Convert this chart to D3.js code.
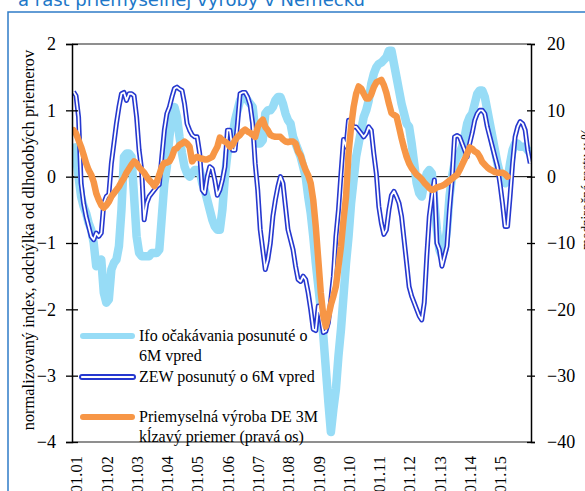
<!DOCTYPE html>
<html>
<head>
<meta charset="utf-8">
<script src="https://d3js.org/d3.v7.min.js"></script>
<style>
  body { margin: 0; background: #fff; }
  svg text { font-family: "Liberation Serif", "Times New Roman", serif; fill: #000; }
</style>
</head>
<body>
<div id="chart"></div>
<script>
// month index: 0 = 01.2001; all series start one month earlier (12.2000)
var startMonth = -1;

// Ifo expectations shifted 6M ahead (left axis)
var ifoValues = [0.5, 0.3, 0.0, -0.3, -0.45, -0.55, -0.7, -0.8, -1.0, -1.35, -1.3, -1.25, -1.75,
  -1.9, -1.85, -1.4, -1.3, -1.25, -1.05, -0.5, 0.3, 0.35, 0.35, 0.3, -0.3,
  -0.9, -1.15, -1.2, -1.2, -1.2, -1.2, -1.15, -1.15, -1.15, -1.1, -0.6, -0.1,
  0.15, 0.6, 0.9, 1.05, 0.9, 0.6, 0.35, 0.15, 0.05, 0.0, 0.05, 0.1,
  0.1, 0.1, -0.1, -0.2, -0.35, -0.5, -0.65, -0.75, -0.8, -0.8, -0.5, 0.0,
  0.35, 0.5, 0.6, 0.85, 1.0, 1.15, 1.2, 1.2, 1.15, 1.1, 1.05, 0.7,
  0.5, 0.5, 0.55, 0.95, 1.0, 1.0, 1.05, 1.15, 1.2, 1.2, 1.1, 0.95,
  0.85, 0.8, 0.6, 0.5, 0.4, 0.3, 0.15, 0.0, -0.3, -0.55, -0.9, -1.3,
  -1.65, -2.0, -2.4, -2.9, -3.4, -3.85, -3.5, -3.2, -2.7, -2.3, -1.8, -1.3,
  -0.9, -0.4, -0.05, 0.3, 0.5, 0.7, 0.9, 1.0, 1.15, 1.4, 1.55, 1.65,
  1.7, 1.72, 1.76, 1.8, 1.9, 1.9, 1.7, 1.5, 1.3, 1.1, 0.95, 0.8,
  0.75, 0.5, 0.2, -0.1, -0.25, -0.3, -0.1, 0.05, 0.1, 0.05, -0.4, -0.8,
  -1.1, -1.2, -1.1, -0.8, -0.3, 0.0, 0.2, 0.3, 0.35, 0.45, 0.6, 0.8,
  0.9, 0.95, 1.1, 1.25, 1.3, 1.3, 1.2, 1.0, 0.8, 0.6, 0.4, 0.2,
  0.05, -0.05, -0.1, -0.05, 0.2, 0.4, 0.5, 0.5, 0.45, 0.45, 0.45, 0.4,
  0.35];

// ZEW shifted 6M ahead (left axis)
var zewValues = [1.28, 1.22, 0.9, -0.1, -0.4, -0.6, -0.75, -0.9, -0.95, -0.85, -0.9, -0.85, -0.4,
  -0.3, -0.27, 0.2, 0.5, 0.8, 1.05, 1.25, 1.27, 1.15, 1.25, 1.25, 1.22,
  0.9, 0.4, 0.1, -0.65, -0.4, -0.3, -0.25, -0.2, -0.15, -0.12, 0.3, 0.7,
  0.95, 1.05, 1.2, 1.33, 1.35, 1.32, 1.3, 1.1, 0.8, 0.7, 0.63, 0.6,
  0.6, 0.35, -0.2, -0.25, 0.0, 0.15, 0.12, -0.05, -0.28, -0.2, -0.05, 0.15,
  0.7, 0.7, 0.4, 0.4, 0.8, 1.25, 1.27, 1.27, 1.2, 1.08, 0.8, 0.2,
  -0.2, -0.8, -1.1, -1.4, -1.25, -1.0, -0.6, -0.35, -0.15, 0.0, -0.1, -0.45,
  -0.8, -0.95, -1.1, -1.35, -1.55, -1.58, -1.5, -1.55, -1.75, -2.0, -2.3, -2.32,
  -1.95, -2.1, -2.35, -2.33, -2.2, -1.85, -1.5, -0.9, -0.5, 0.05, 0.56, 0.45,
  0.85, 0.82, 0.75, 0.75, 0.7, 0.65, 0.6, 0.65, 0.75, 0.7, 0.35, 0.05,
  -0.45, -0.7, -0.87, -0.8, -0.5, -0.28, -0.22, -0.3, -0.4, -0.6, -0.95, -1.3,
  -1.66, -1.8, -1.9, -2.0, -2.1, -2.16, -1.9, -1.2, -0.6, -0.3, -0.05, -1.0,
  -1.1, -1.35, -1.2, -1.05, -0.5, -0.05, 0.6, 0.62, 0.6, 0.5, 0.4, 0.3,
  0.5, 0.66, 0.85, 0.95, 1.0, 1.0, 0.95, 0.75, 0.6, 0.45, 0.3, 0.15,
  -0.1, -0.4, -0.75, -0.75, -0.3, 0.2, 0.6, 0.75, 0.83, 0.8, 0.7, 0.4,
  0.2];

// industrial production DE, 3M moving average, y/y % (right axis)
var ipValues = [7.0, 6.5, 5.5, 4.5, 3.3, 2.0, 1.0, 0.3, -0.8, -2.5, -3.5, -4.3, -4.7,
  -4.3, -3.8, -3.0, -2.5, -2.0, -1.5, -0.8, -0.2, 0.6, 1.2, 1.8, 2.3,
  2.0, 1.4, 1.0, 0.6, 0.0, -0.5, -0.9, -1.4, -0.8, 0.3, 1.5, 2.1,
  2.1, 2.3, 3.0, 4.1, 4.3, 4.8, 5.0, 5.3, 5.0, 4.5, 2.3, 2.8,
  3.0, 2.8, 2.7, 2.6, 2.6, 2.8, 3.0, 3.8, 4.5, 5.9, 5.5, 5.3,
  5.0, 4.5, 4.8, 5.5, 6.0, 6.3, 6.8, 7.1, 6.8, 6.6, 6.3, 6.0,
  7.5, 8.2, 8.6, 7.5, 7.0, 6.3, 6.1, 6.0, 6.0, 6.0, 5.6, 5.3,
  5.2, 5.3, 5.3, 5.0, 3.8, 3.2, 2.0, 1.0, 0.2, -1.0, -3.5, -7.5,
  -12.5, -17.5, -21.0, -22.6, -21.0, -19.3, -18.0, -16.5, -13.5, -10.5, -6.5, -3.0,
  3.5, 7.5, 10.5, 12.5, 13.6, 13.3, 12.5, 11.8, 11.8, 12.4, 13.5, 14.2,
  14.4, 14.6, 13.8, 12.6, 11.0, 9.6, 9.3, 9.1, 7.5, 5.8, 4.3, 3.0,
  2.0, 1.3, 0.8, 0.3, 0.0, -0.4, -0.9, -1.3, -1.7, -2.0, -1.9, -1.6,
  -1.5, -1.4, -1.2, -0.9, -0.6, -0.3, 0.0, 0.3, 1.0, 1.8, 2.6, 3.5,
  4.4, 4.2, 3.8, 3.6, 3.0, 2.2, 1.8, 1.4, 1.1, 0.9, 0.7, 0.6,
  0.6, 0.6, 0.4, 0.0];

var yearLabels = ["01.01", "01.02", "01.03", "01.04", "01.05", "01.06", "01.07", "01.08",
  "01.09", "01.10", "01.11", "01.12", "01.13", "01.14", "01.15"];
var leftTicks = [2, 1, 0, -1, -2, -3, -4];
var rightTicks = [20, 10, 0, -10, -20, -30, -40];
var legendLabels = [["Ifo očakávania posunuté o", "6M vpred"],
  ["ZEW posunutý o 6M vpred"],
  ["Priemyselná výroba DE 3M", "kĺzavý priemer (pravá os)"]];

var W = 585, H = 491;
var plotL = 72, plotR = 531, plotT = 44, plotB = 442;

var svg = d3.select("#chart").append("svg")
  .attr("width", W).attr("height", H);

var x = d3.scaleLinear().domain([-1.6, 180.3]).range([plotL, plotR]);
var yL = d3.scaleLinear().domain([-4, 2]).range([plotB, plotT]);
var yR = d3.scaleLinear().domain([-40, 20]).range([plotB, plotT]);

// outer frame and cut-off title
svg.append("path")
  .attr("d", "M8," + H + "V12H" + W)
  .attr("fill", "none").attr("stroke", "#2f7cc8").attr("stroke-width", 1.5);
svg.append("text")
  .attr("x", 18).attr("y", 6)
  .style("font-family", "Verdana, 'DejaVu Sans', sans-serif")
  .style("font-size", "18px")
  .style("fill", "#2077c8")
  .text("a rast priemyselnej výroby v Nemecku");

svg.append("defs").append("clipPath").attr("id", "plot")
  .append("rect").attr("x", plotL).attr("y", plotT - 4)
  .attr("width", plotR - plotL).attr("height", plotB - plotT + 8);

// plot border top / bottom
[plotT, plotB].forEach(function(yy) {
  svg.append("line")
    .attr("x1", plotL).attr("x2", plotR).attr("y1", yy).attr("y2", yy)
    .attr("stroke", "#8f8f8f").attr("stroke-width", 2);
});

// zero line
svg.append("line")
  .attr("x1", plotL).attr("x2", plotR).attr("y1", yL(0)).attr("y2", yL(0))
  .attr("stroke", "#000").attr("stroke-width", 1);

var lineL = d3.line()
  .x(function(d, i) { return x(startMonth + i); })
  .y(function(d) { return yL(d); });
var lineR = d3.line()
  .x(function(d, i) { return x(startMonth + i); })
  .y(function(d) { return yR(d); });

var g = svg.append("g").attr("clip-path", "url(#plot)");
g.append("path").attr("d", lineL(ifoValues))
  .attr("fill", "none").attr("stroke", "#97dcf6").attr("stroke-width", 8.5)
  .attr("stroke-linejoin", "round");
g.append("path").attr("d", lineL(zewValues))
  .attr("fill", "none").attr("stroke", "#2638cf").attr("stroke-width", 5)
  .attr("stroke-linejoin", "round");
g.append("path").attr("d", lineL(zewValues))
  .attr("fill", "none").attr("stroke", "#fff").attr("stroke-width", 1.8)
  .attr("stroke-linejoin", "round");
g.append("path").attr("d", lineR(ipValues))
  .attr("fill", "none").attr("stroke", "#f79646").attr("stroke-width", 6.5)
  .attr("stroke-linejoin", "round").attr("stroke-linecap", "round");

// left axis
var axL = svg.append("g").attr("transform", "translate(" + plotL + ",0)")
  .call(d3.axisLeft(yL).tickValues(leftTicks).tickSizeOuter(0).tickSize(6).tickPadding(10)
    .tickFormat(d3.format("d")));
axL.selectAll(".tick line").attr("x1", 6).attr("stroke-width", 1.3);
axL.select(".domain").attr("stroke-width", 1.5);
axL.selectAll("text").style("font-size", "18px")
  .style("font-family", "'Liberation Serif', serif");

// right axis
var axR = svg.append("g").attr("transform", "translate(" + plotR + ",0)")
  .call(d3.axisRight(yR).tickValues(rightTicks).tickSizeOuter(0).tickSize(4).tickPadding(12)
    .tickFormat(d3.format("d")));
axR.selectAll(".tick line").attr("x1", -4).attr("stroke-width", 1.3);
axR.select(".domain").attr("stroke-width", 1.5);
axR.selectAll("text").style("font-size", "18px")
  .style("font-family", "'Liberation Serif', serif");

// bottom labels
var axB = svg.append("g").attr("transform", "translate(0," + plotB + ")")
  .call(d3.axisBottom(x).tickValues(d3.range(0, 169, 12)).tickSize(0)
    .tickFormat(function(d) { return yearLabels[d / 12]; }));
axB.select(".domain").remove();
axB.selectAll("text")
  .attr("transform", "rotate(-90)")
  .attr("text-anchor", "end")
  .attr("x", -14).attr("y", 0).attr("dy", "0.35em")
  .style("font-size", "16.5px")
  .style("font-family", "'Liberation Serif', serif");

// axis titles
svg.append("text")
  .attr("transform", "translate(34,240) rotate(-90)")
  .attr("text-anchor", "middle")
  .style("font-size", "16.4px")
  .text("normalizovaný index, odchýlka od dlhodobých priemerov");
svg.append("text")
  .attr("transform", "translate(591,189) rotate(-90)")
  .attr("text-anchor", "middle")
  .style("font-size", "14px")
  .text("medziročná rastu v %");

// legend
var legY = [336, 377, 417];
var leg = svg.append("g");
legY.forEach(function(ly, i) {
  if (i === 0) {
    leg.append("line").attr("x1", 83).attr("x2", 132).attr("y1", ly).attr("y2", ly)
      .attr("stroke", "#97dcf6").attr("stroke-width", 6).attr("stroke-linecap", "round");
  } else if (i === 1) {
    leg.append("line").attr("x1", 82).attr("x2", 133).attr("y1", ly).attr("y2", ly)
      .attr("stroke", "#2638cf").attr("stroke-width", 6).attr("stroke-linecap", "round");
    leg.append("line").attr("x1", 82).attr("x2", 133).attr("y1", ly).attr("y2", ly)
      .attr("stroke", "#fff").attr("stroke-width", 2.2).attr("stroke-linecap", "round");
  } else {
    leg.append("line").attr("x1", 83).attr("x2", 132).attr("y1", ly).attr("y2", ly)
      .attr("stroke", "#f79646").attr("stroke-width", 6).attr("stroke-linecap", "round");
  }
  legendLabels[i].forEach(function(t, j) {
    leg.append("text").attr("x", 139).attr("y", ly + 5 + j * 19.5)
      .style("font-size", "16px").text(t);
  });
});
</script>
</body>
</html>
